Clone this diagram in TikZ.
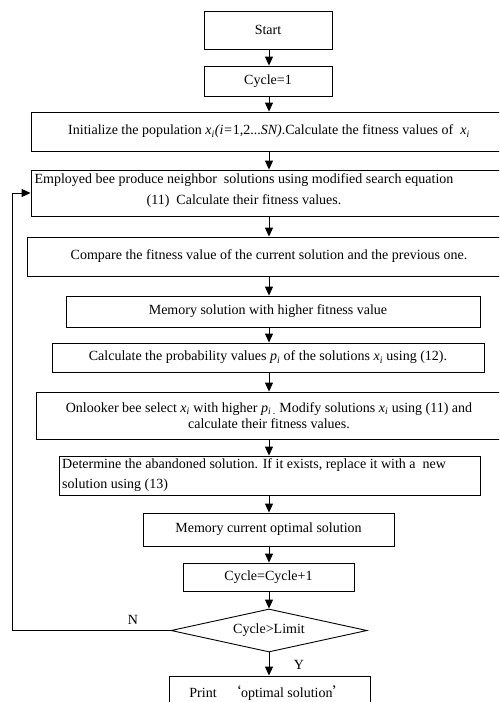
\documentclass[tikz,border=0pt]{standalone}
\usepackage{fontspec}
\setmainfont{Liberation Serif}
\newfontfamily\cjk{Noto Sans CJK SC}
\usetikzlibrary{shapes.geometric,arrows.meta}
\newcommand\vx{\textit{x}\textsubscript{\textit{i}}}
\newcommand\vp{\textit{p}\textsubscript{\textit{i}}}
\tikzset{
  box/.style={draw, line width=0.9pt, rectangle, inner sep=0pt, align=center, font=\fontsize{14}{16}\selectfont},
  txt/.style={inner sep=0pt, align=center, font=\fontsize{14}{16}\selectfont},
  arr/.style={line width=0.9pt, -{Triangle[width=8pt,length=9pt]}},
  lab/.style={inner sep=0pt, font=\fontsize{14}{16}\selectfont}
}
\begin{document}
\begin{tikzpicture}[x=1pt,y=-1pt]
\useasboundingbox (0,0) rectangle (499,702);
\clip (0,0) rectangle (499,702);
\fill[white] (0,0) rectangle (499,702);
\coordinate (x0) at (269,0);
\coordinate (loopc) at (12,630.5);
\node[box, minimum width=128pt, minimum height=38pt] (start) at (268,30) {Start};
\node[box, minimum width=128pt, minimum height=30pt] (cyc1) at (268,81) {Cycle=1};
\node[box, minimum width=479pt, minimum height=39pt] (init) at (270.5,131.5) {};
\node[txt] (initt) at (269,131.5) {Initialize the population \vx\textit{(i=}1,2...\textit{SN)}.Calculate the fitness values of\ \ \vx};
\node[box, minimum width=479pt, minimum height=46pt] (emp) at (270.5,193) {};
\node[txt, font=\fontsize{14}{21}\selectfont] (empt) at (244,191) {Employed bee produce neighbor\ \ solutions using modified search equation\\(11)\ \ Calculate their fitness values.};
\node[box, minimum width=484pt, minimum height=39pt] (cmp) at (269,256.5) {Compare the fitness value of the current solution and the previous one.};
\node[box, minimum width=414pt, minimum height=31pt] (mem) at (273,311.5) {};
\node[txt] (memt) at (268,311.5) {Memory solution with higher fitness value};
\node[box, minimum width=432pt, minimum height=29pt] (prob) at (268,357.5) {Calculate the probability values \vp\ of the solutions \vx\ using (12).};
\node[box, minimum width=474pt, minimum height=47pt] (onl) at (273,415.5) {};
\node[txt, font=\fontsize{14}{16}\selectfont] (onlt) at (269,415.5) {Onlooker bee select \vx\ with higher \vp\textsubscript{\,.}\ Modify solutions \vx\ using (11) and\\calculate their fitness values.};
\node[box, minimum width=421pt, minimum height=39pt] (det) at (269.5,475.5) {};
\node[txt, align=left, anchor=west, font=\fontsize{14}{20}\selectfont] (dett) at (62,475.5) {Determine the abandoned solution. If it exists, replace it with a\ \ new\\solution using (13)};
\node[box, minimum width=251pt, minimum height=33pt] (memc) at (268.5,529.5) {Memory current optimal solution};
\node[box, minimum width=171pt, minimum height=28pt] (inc) at (268.5,577) {Cycle=Cycle+1};
\node[draw, line width=0.9pt, diamond, aspect=4.56, inner sep=0pt, minimum width=196pt, minimum height=43pt, font=\fontsize{14}{16}\selectfont] (dia) at (269,630.5) {Cycle>Limit};
\node[box, minimum width=201pt, minimum height=40pt] (prt) at (269.5,696) {};
\node[txt] (prtt) at (268,693) {Print\ \ \ {\cjk ‘}optimal solution{\cjk ’}};
\draw[arr] (start.south -| x0) -- (cyc1.north -| x0);
\draw[arr] (cyc1.south -| x0) -- (init.north -| x0);
\draw[arr] (init.south -| x0) -- (emp.north -| x0);
\draw[arr] (emp.south -| x0) -- (cmp.north -| x0);
\draw[arr] (cmp.south -| x0) -- (mem.north -| x0);
\draw[arr] (mem.south -| x0) -- (prob.north -| x0);
\draw[arr] (prob.south -| x0) -- (onl.north -| x0);
\draw[arr] (onl.south -| x0) -- (det.north -| x0);
\draw[arr] (det.south -| x0) -- (memc.north -| x0);
\draw[arr] (memc.south -| x0) -- (inc.north -| x0);
\draw[arr] (inc.south -| x0) -- (dia.north);
\draw[arr] (dia.south) -- (prt.north -| dia.south);
\draw[arr] (dia.west) -- (loopc) |- (emp.west);
\node[lab] (nl) at (133,620) {N};
\node[lab] (yl) at (299,665) {Y};
\end{tikzpicture}
\end{document}
